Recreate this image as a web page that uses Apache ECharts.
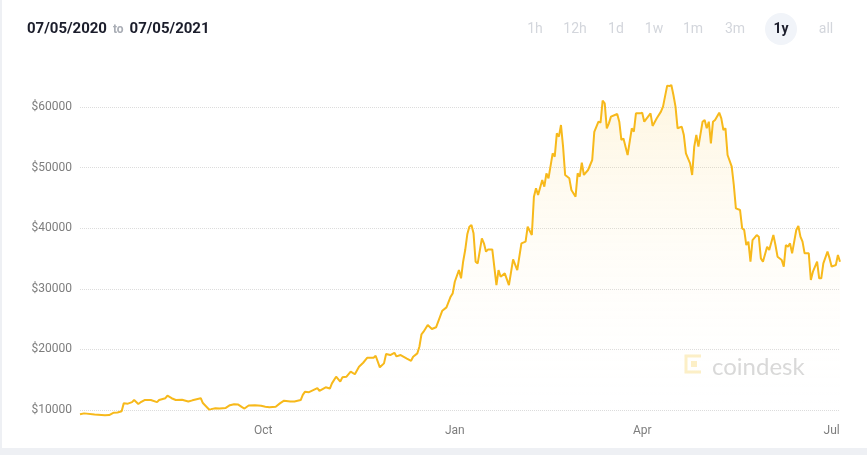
<!DOCTYPE html>
<html>
<head>
<meta charset="utf-8">
<title>BTC 1y</title>
<script src="https://cdn.jsdelivr.net/npm/echarts@6/dist/echarts.min.js"></script>
<style>
    html, body { margin: 0; padding: 0; background: #eef0f4; }
    #chart { position: absolute; left: 2px; top: 0; width: 865px; height: 448px; background: #fff; }
</style>
</head>
<body>
<div id="chart"></div>
<script>
// 日期 / 价格
var dates = [
    '2020-07-05','2020-07-07','2020-07-12','2020-07-17','2020-07-19','2020-07-21','2020-07-23','2020-07-25','2020-07-26','2020-07-28',
    '2020-07-30','2020-07-31','2020-08-02','2020-08-03','2020-08-05','2020-08-08','2020-08-11','2020-08-12','2020-08-15','2020-08-16',
    '2020-08-18','2020-08-20','2020-08-23','2020-08-26','2020-08-28','2020-09-01','2020-09-02','2020-09-05','2020-09-06','2020-09-08',
    '2020-09-10','2020-09-13','2020-09-15','2020-09-17','2020-09-19','2020-09-21','2020-09-22','2020-09-24','2020-09-27','2020-09-30',
    '2020-10-02','2020-10-04','2020-10-07','2020-10-09','2020-10-11','2020-10-14','2020-10-16','2020-10-19','2020-10-20','2020-10-21',
    '2020-10-23','2020-10-27','2020-10-28','2020-10-31','2020-11-02','2020-11-03','2020-11-05','2020-11-07','2020-11-08','2020-11-10',
    '2020-11-12','2020-11-14','2020-11-16','2020-11-18','2020-11-20','2020-11-23','2020-11-24','2020-11-26','2020-11-28','2020-11-29',
    '2020-12-01','2020-12-03','2020-12-04','2020-12-06','2020-12-09','2020-12-11','2020-12-12','2020-12-14','2020-12-15','2020-12-16',
    '2020-12-17','2020-12-19','2020-12-21','2020-12-23','2020-12-26','2020-12-28','2020-12-30','2020-12-31','2021-01-01','2021-01-03',
    '2021-01-04','2021-01-05','2021-01-06','2021-01-07','2021-01-08','2021-01-09','2021-01-10','2021-01-11','2021-01-12','2021-01-14',
    '2021-01-15','2021-01-16','2021-01-17','2021-01-19','2021-01-21','2021-01-22','2021-01-23','2021-01-25','2021-01-27','2021-01-29',
    '2021-01-31','2021-02-02','2021-02-04','2021-02-05','2021-02-07','2021-02-08','2021-02-09','2021-02-10','2021-02-12','2021-02-13',
    '2021-02-14','2021-02-15','2021-02-17','2021-02-18','2021-02-19','2021-02-20','2021-02-21','2021-02-22','2021-02-23','2021-02-25',
    '2021-02-26','2021-02-28','2021-03-01','2021-03-02','2021-03-03','2021-03-04','2021-03-06','2021-03-08','2021-03-09','2021-03-11',
    '2021-03-12','2021-03-13','2021-03-14','2021-03-15','2021-03-16','2021-03-17','2021-03-20','2021-03-21','2021-03-22','2021-03-23',
    '2021-03-25','2021-03-27','2021-03-28','2021-03-29','2021-03-31','2021-04-01','2021-04-02','2021-04-05','2021-04-06','2021-04-08',
    '2021-04-10','2021-04-11','2021-04-13','2021-04-14','2021-04-15','2021-04-16','2021-04-17','2021-04-18','2021-04-20','2021-04-21',
    '2021-04-22','2021-04-24','2021-04-25','2021-04-26','2021-04-27','2021-04-28','2021-04-30','2021-05-01','2021-05-02','2021-05-03',
    '2021-05-04','2021-05-05','2021-05-06','2021-05-08','2021-05-09','2021-05-10','2021-05-11','2021-05-12','2021-05-14','2021-05-15',
    '2021-05-16','2021-05-18','2021-05-19','2021-05-20','2021-05-21','2021-05-22','2021-05-23','2021-05-24','2021-05-26','2021-05-27',
    '2021-05-28','2021-05-29','2021-05-31','2021-06-01','2021-06-03','2021-06-04','2021-06-05','2021-06-07','2021-06-08','2021-06-09',
    '2021-06-10','2021-06-11','2021-06-12','2021-06-14','2021-06-15','2021-06-16','2021-06-17','2021-06-18','2021-06-20','2021-06-21',
    '2021-06-22','2021-06-24','2021-06-25','2021-06-26','2021-06-27','2021-06-29','2021-06-30','2021-07-01','2021-07-03','2021-07-04',
    '2021-07-05'
];
var prices = [
    9300, 9450, 9250, 9150, 9180, 9550, 9600, 9800, 11100, 11050,
    11300, 11650, 11000, 11250, 11650, 11650, 11300, 11650, 11950, 12360,
    11950, 11650, 11700, 11400, 11600, 11950, 11150, 10100, 10150, 10300,
    10250, 10350, 10800, 10950, 10900, 10450, 10250, 10750, 10800, 10700,
    10550, 10450, 10550, 11100, 11540, 11400, 11400, 11650, 12500, 13000,
    12950, 13600, 13150, 13750, 13550, 14400, 15500, 14680, 15400, 15500,
    16330, 15900, 17150, 17800, 18630, 18630, 18960, 17050, 17700, 19240,
    19070, 19450, 18850, 19070, 18500, 18130, 18800, 19350, 20440, 22500,
    22920, 24030, 23370, 23650, 26390, 26940, 28700, 29250, 31170, 33100,
    31730, 34470, 36400, 39000, 40250, 40530, 39150, 34470, 34200, 38330,
    37500, 36130, 36500, 36500, 30620, 33100, 32000, 32550, 30620, 34860,
    33100, 37500, 37780, 40250, 38875, 45200, 46580, 45470, 47950, 46850,
    49050, 48230, 52350, 51800, 55650, 55100, 57020, 53450, 48780, 48230,
    46300, 45200, 49050, 48500, 50800, 48780, 49600, 51250, 55900, 57570,
    57400, 61040, 60600, 56480, 57300, 58400, 58840, 57570, 54550, 54800,
    52080, 56480, 55920, 58950, 58950, 59060, 57570, 58950, 56870, 58130,
    59230, 60050, 63520, 63450, 63620, 61970, 60050, 56480, 56750, 55370,
    52350, 50700, 48780, 53450, 55370, 53450, 57570, 57850, 56480, 57570,
    54000, 57570, 57850, 59060, 58130, 56200, 56480, 52080, 50150, 47125,
    43280, 43000, 40000, 39700, 37225, 37780, 34470, 38050, 38875, 38600,
    35020, 34470, 36950, 36400, 38875, 37225, 35300, 34750, 33650, 37220,
    36950, 37500, 35850, 39700, 40360, 38600, 37780, 35850, 35850, 31450,
    32820, 34470, 31730, 31730, 34200, 36130, 35020, 33650, 33930, 35575,
    34470
];
// x 轴只显示季度月份
var tickDates = ['2020-10-01', '2021-01-01', '2021-04-01', '2021-07-01'];
var monthNames = ['Jan','Feb','Mar','Apr','May','Jun','Jul','Aug','Sep','Oct','Nov','Dec'];
var periods = ['1h', '12h', '1d', '1w', '1m', '3m', '1y', 'all'];
var activePeriod = '1y';

function toTime(s) {
    return new Date(s + 'T00:00:00').getTime();
}

var seriesData = [];
for (var i = 0; i < dates.length; i++) {
    seriesData.push([toTime(dates[i]), prices[i]]);
}

// 右上角时间段按钮
var btnX = [533, 573, 614, 652, 691, 733, 779, 824];
var graphics = [];
for (var j = 0; j < periods.length; j++) {
    if (periods[j] == activePeriod) {
        graphics.push({type: 'circle', shape: {cx: btnX[j], cy: 29, r: 16}, style: {fill: '#f1f4f9'}, z: 1});
    }
    graphics.push({
        type: 'text', x: btnX[j], y: 29, z: 2,
        style: {
            text: periods[j], align: 'center', verticalAlign: 'middle',
            font: (periods[j] == activePeriod ? 'bold ' : '') + '14px Roboto',
            fill: periods[j] == activePeriod ? '#1b1d2b' : '#d3d6dc'
        }
    });
}
// coindesk 水印
graphics.push({type: 'polyline', shape: {points: [[699, 356], [684, 356], [684, 372], [699, 372]]}, style: {stroke: '#fcefc6', lineWidth: 3, fill: null}});
graphics.push({type: 'rect', shape: {x: 689, y: 361, width: 6, height: 6}, style: {fill: '#fcefc6'}});
graphics.push({type: 'text', x: 710, y: 367, style: {text: 'coindesk', font: '24px Lato', fill: '#d8d8d8', verticalAlign: 'middle'}});

var chart = echarts.init(document.getElementById('chart'));
var option = {
    animation: false,
    title: {
        left: 20, top: 17,
        text: '{d|07/05/2020}{t|  to  }{d|07/05/2021}',
        textStyle: {
            rich: {
                d: {fontSize: 15, fontWeight: 'bold', color: '#1b1d2b', fontFamily: 'Roboto'},
                t: {fontSize: 12, color: '#a9adb5', fontFamily: 'Roboto'}
            }
        }
    },
    graphic: graphics,
    grid: {left: 78, right: 27, top: 70.6, bottom: 31.9},
    xAxis: {
        type: 'value',
        min: toTime('2020-07-05'),
        max: toTime('2021-07-05'),
        axisLine: {show: false},
        axisTick: {show: false},
        splitLine: {show: false},
        axisLabel: {
            customValues: tickDates.map(toTime),
            margin: 9,
            color: '#7d7d7d',
            fontSize: 12,
            fontFamily: 'Roboto',
            formatter: function (v) {
                return monthNames[new Date(v).getMonth()];
            }
        }
    },
    yAxis: {
        type: 'value',
        min: 9000,
        max: 66000,
        splitNumber: 6,
        axisLine: {show: false},
        axisTick: {show: false},
        axisLabel: {
            showMinLabel: false,
            showMaxLabel: false,
            margin: 8,
            color: '#7d7d7d',
            fontSize: 12,
            fontFamily: 'Roboto',
            formatter: function (v) { return '$' + v; }
        },
        splitLine: {
            showMinLine: false,
            showMaxLine: false,
            lineStyle: {color: '#dcdcdc', type: 'dotted'}
        }
    },
    series: [{
        type: 'line',
        data: seriesData,
        showSymbol: false,
        lineStyle: {color: '#f7b91b', width: 2},
        areaStyle: {
            color: new echarts.graphic.LinearGradient(0, 0, 0, 1, [
                {offset: 0, color: 'rgba(250,195,50,0.22)'},
                {offset: 1, color: 'rgba(255,255,255,0)'}
            ])
        }
    }]
};
chart.setOption(option);
</script>
</body>
</html>
